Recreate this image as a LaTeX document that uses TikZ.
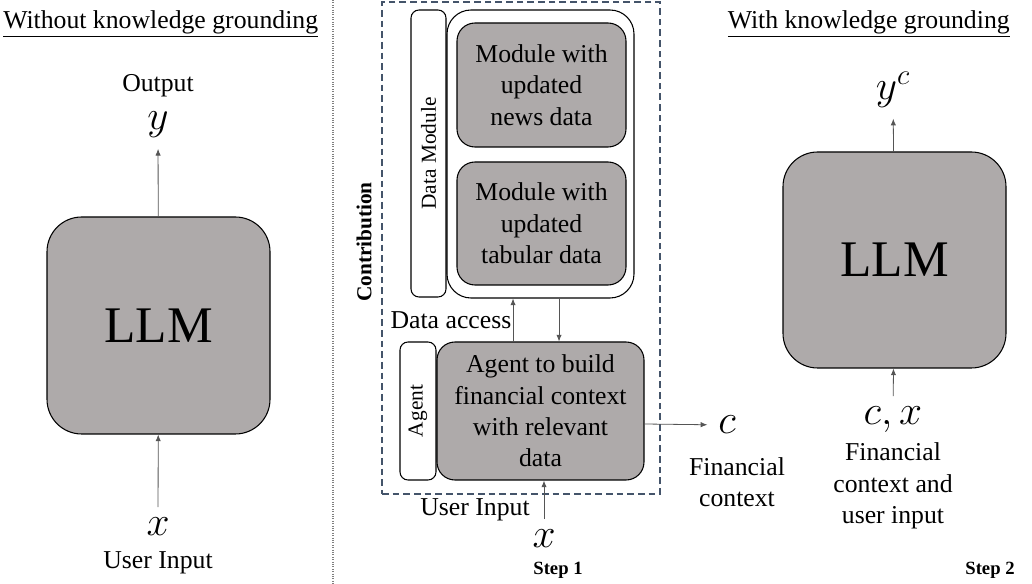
\RequirePackage{fix-cm}
\documentclass[tikz,border=0pt]{standalone}
\usepackage{fontspec}
\setmainfont{Liberation Serif}
\usetikzlibrary{arrows.meta}
\definecolor{llmgray}{RGB}{174,170,170}
\definecolor{slate}{RGB}{68,84,106}
\definecolor{wiregray}{RGB}{85,85,85}

\begin{document}
\begin{tikzpicture}[x=0.75pt, y=-0.75pt, >={Latex[length=5pt,width=4pt]}]
		\tikzstyle{every node}=[inner sep=1pt, align=center, font=\fontsize{19.3}{23.5}\selectfont]
		\tikzstyle{box}=[draw, fill=llmgray, line width=0.8pt]
		\tikzstyle{bigbox}=[box, rounded corners=26pt, minimum width=167.25pt, font=\fontsize{38.5}{46}\selectfont]
		\tikzstyle{modbox}=[box, rounded corners=13.5pt]
		\tikzstyle{tab}=[draw, fill=white, rounded corners=6pt, line width=0.8pt, rotate=90, font=\fontsize{16}{20}\selectfont]
		\tikzstyle{var}=[inner sep=8pt, font=\fontsize{31}{36}\selectfont]
		\tikzstyle{wire}=[->, draw=wiregray, line width=0.6pt]
		\tikzstyle{steplabel}=[font=\bfseries\fontsize{14}{17}\selectfont]
		\useasboundingbox (0,0) rectangle (1032,584);
		% left: plain LLM
		\node[anchor=west, inner sep=0pt] (ttla) at (3,24) {\underline{Without knowledge grounding}};
		\node[bigbox, minimum height=162.75pt] (LLMa) at (158.5,325.5) {LLM};
		\node (outa) at (158,86) {Output};
		\node[var] (ya) at (158,125) {$y$};
		\node[var] (xa) at (158,527) {$x$};
		\node (ina) at (158,563) {User Input};
		\draw [wire] (LLMa) -- (ya);
		\draw [wire] (xa) -- (LLMa);
		\draw [densely dotted, gray, line width=0.8pt] (333,0) -- (333,584);
		% middle: contribution
		\node[draw=slate, dash pattern=on 5pt off 3pt, line width=0.8pt, minimum width=208.5pt, minimum height=369pt] (contrib) at (521,248) {};
		\node[rotate=90, font=\bfseries\fontsize{16}{20}\selectfont] (contriblbl) at (364,242) {Contribution};
		\node[tab, minimum width=215.25pt, minimum height=26.25pt] (dmtab) at (428.5,153.5) {Data Module};
		\node[draw, fill=white, rounded corners=18pt, line width=0.8pt, minimum width=140.25pt, minimum height=216pt] (data) at (540.5,154) {};
		\node[modbox, minimum width=126.75pt, minimum height=93pt] (news) at (541.5,85) {Module with\\updated\\news data};
		\node[modbox, minimum width=126.75pt, minimum height=92.25pt] (tabular) at (541.5,223.5) {Module with\\updated\\tabular data};
		\node[tab, minimum width=103.5pt, minimum height=27pt] (agtab) at (418,411) {Agent};
		\node[modbox, minimum width=155.25pt, minimum height=103.5pt] (agent) at (540.5,411) {Agent to build\\financial context\\with relevant\\data};
		\draw [wire] ([xshift=-20.6pt]agent.north) -- ([xshift=-20.6pt]data.south) node[midway, left] {Data access};
		\draw [wire] ([xshift=13.9pt]data.south) -- ([xshift=13.9pt]agent.north);
		\node[var] (cm) at (727,425) {$c$};
		\draw [wire] ([yshift=-9.75pt]agent.east) -- (cm);
		\node (fctx) at (737,482) {Financial\\context};
		\node[var] (xm) at (544,539) {$x$};
		\draw [wire] (xm) -- (xm |- agent.south);
		\node (inm) at (475,510) {User Input};
		\node[steplabel] (stepa) at (558,570) {Step 1};
		% right: grounded LLM
		\node[anchor=east, inner sep=0pt] (ttlb) at (1010,24) {\underline{With knowledge grounding}};
		\node[bigbox, minimum height=162pt] (LLMb) at (894.5,260) {LLM};
		\node[var] (yc) at (893,90) {$y^c$};
		\node[var] (cx) at (893,420) {$c, x$};
		\node (fin) at (893,486) {Financial\\context and\\user input};
		\draw [wire] (LLMb) -- (yc);
		\draw [wire] (cx) -- (LLMb);
		\node[steplabel] (stepb) at (990,570) {Step 2};
\end{tikzpicture}
\end{document}
